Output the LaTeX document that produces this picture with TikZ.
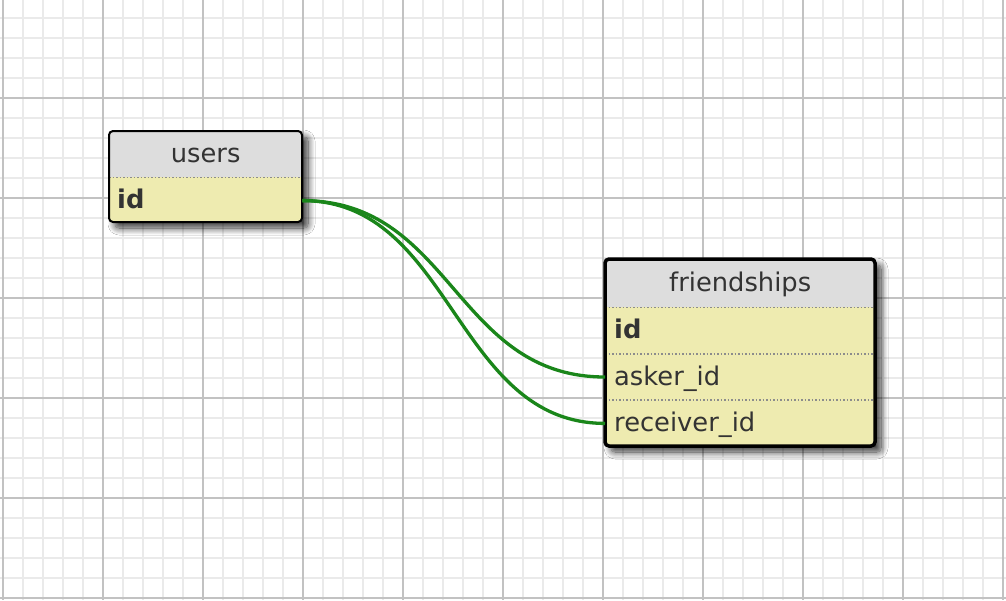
\documentclass[tikz,border=0pt]{standalone}
\usepackage{fontspec}
\setmainfont{DejaVu Sans}
\usetikzlibrary{positioning,shadows.blur}

\definecolor{gridminor}{HTML}{EAEAEA}
\definecolor{gridmajor}{HTML}{C2C2C2}
\definecolor{headgray}{HTML}{DDDDDD}
\definecolor{rowyellow}{HTML}{EEEBB0}
\definecolor{textgray}{HTML}{333333}
\definecolor{sepgray}{HTML}{8C8C8C}
\definecolor{relgreen}{HTML}{1A861A}

\tikzset{
  tablebox/.style={fill=rowyellow, rounded corners=4,
    blur shadow={shadow xshift=6pt, shadow yshift=-6pt, shadow blur radius=7pt,
      shadow blur steps=12, shadow opacity=80}},
  tableedge/.style={draw=black, line width=#1, rounded corners=4},
  tabletitle/.style={fill=headgray, text=textgray, minimum width=#1, minimum height=46,
    inner sep=0pt, anchor=north west, text height=20, text depth=4,
    font=\fontsize{25.75}{30}\selectfont},
  tablerow/.style={text=textgray, text width=#1, minimum height=46, inner xsep=8, inner ysep=0,
    align=left, text height=20, text depth=4, font=\fontsize{25.75}{30}\selectfont},
  rowsep/.style={draw=sepgray, line width=1.5, dash pattern=on 1.5pt off 2pt},
  relation/.style={draw=relgreen, line width=3.3}
}

\begin{document}
\begin{tikzpicture}[x=1pt, y=-1pt]

        \useasboundingbox (0,0) rectangle (1006,600);
        \fill[white] (0,0) rectangle (1006,600);

        %Background grid
        \foreach \gx in {3,23,...,1003}  \draw[gridminor, line width=2] (\gx,0) -- (\gx,600);
        \foreach \gy in {18,38,...,598}  \draw[gridminor, line width=2] (0,\gy) -- (1006,\gy);
        \foreach \gx in {3,103,...,1003} \draw[gridmajor, line width=2] (\gx,0) -- (\gx,600);
        \foreach \gy in {98,198,...,598} \draw[gridmajor, line width=2] (0,\gy) -- (1006,\gy);

        %Table users
        \coordinate (users-nw) at (109,131);
        \coordinate (users-se) at (302,222);
        \path[tablebox] (users-nw) rectangle (users-se);
        \begin{scope}
          \clip[rounded corners=4] (users-nw) rectangle (users-se);
          \node[tabletitle=193] (users-title) at (users-nw) {users};
          \node[tablerow=177, below=0pt of users-title] (users-id) {\textbf{id}};
        \end{scope}
        \draw[rowsep] (users-title.south west) -- (users-title.south east);
        \draw[tableedge=2] (users-nw) rectangle (users-se);

        %Table friendships
        \coordinate (fr-nw) at (605,259);
        \coordinate (fr-se) at (875,446);
        \path[tablebox] (fr-nw) rectangle (fr-se);
        \begin{scope}
          \clip[rounded corners=4] (fr-nw) rectangle (fr-se);
          \node[tabletitle=270, minimum height=48] (fr-title) at (fr-nw) {friendships};
          \node[tablerow=252, inner xsep=9, below=0pt of fr-title] (fr-id)       {\textbf{id}};
          \node[tablerow=252, inner xsep=9, below=0pt of fr-id]    (fr-asker)    {asker\_id};
          \node[tablerow=252, inner xsep=9, below=0pt of fr-asker] (fr-receiver) {receiver\_id};
        \end{scope}
        \draw[rowsep] (fr-title.south west) -- (fr-title.south east);
        \draw[rowsep] (fr-id.south west)    -- (fr-id.south east);
        \draw[rowsep] (fr-asker.south west) -- (fr-asker.south east);
        \draw[tableedge=3.5] (fr-nw) rectangle (fr-se);

        %Relations
        \draw[relation] (users-id.east) .. controls +(150,0) and +(-150,0) .. (fr-asker.west);
        \draw[relation] (users-id.east) .. controls +(150,0) and +(-150,0) .. (fr-receiver.west);

\end{tikzpicture}
\end{document}
